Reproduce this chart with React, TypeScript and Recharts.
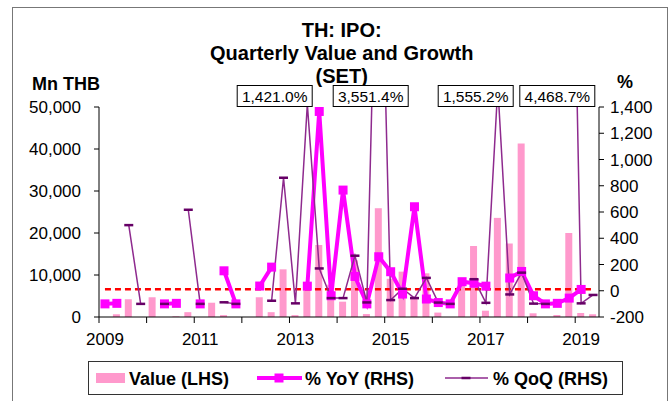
import { Bar, ComposedChart, Line, ReferenceLine, XAxis, YAxis } from "recharts"

// 2009Q1 .. 2019Q2
const periods = [
    "2009Q1", "2009Q2", "2009Q3", "2009Q4",
    "2010Q1", "2010Q2", "2010Q3", "2010Q4",
    "2011Q1", "2011Q2", "2011Q3", "2011Q4",
    "2012Q1", "2012Q2", "2012Q3", "2012Q4",
    "2013Q1", "2013Q2", "2013Q3", "2013Q4",
    "2014Q1", "2014Q2", "2014Q3", "2014Q4",
    "2015Q1", "2015Q2", "2015Q3", "2015Q4",
    "2016Q1", "2016Q2", "2016Q3", "2016Q4",
    "2017Q1", "2017Q2", "2017Q3", "2017Q4",
    "2018Q1", "2018Q2", "2018Q3", "2018Q4",
    "2019Q1", "2019Q2",
]

// IPO value, Mn THB (LHS)
const values = [
    0, 650, 4250, 0,
    4700, 0, 170, 1150,
    0, 3400, 450, 0,
    0, 4700, 1150, 11350,
    450, 6800, 17150, 7700,
    3650, 13500, 700, 25900,
    9100, 10800, 4850, 10400,
    1050, 0, 8600, 16900,
    1500, 23600, 17500, 41300,
    880, 0, 480, 20000,
    950, 650,
]

// % YoY (RHS)
const yoy = [
    -100, -96, null, null,
    null, -100, -96, null,
    -100, null, 152, -100,
    null, 36, 180, null,
    null, 35, 1366, -38,
    767, 109, -100, 259,
    145, -25, 640, -63,
    -90, -100, 69, 57,
    35, null, 97, 147,
    -38, -100, -96, -56,
    10, null,
]

// % QoQ (RHS)
const qoq = [
    null, null, 500, -100,
    null, -100, null, 617,
    -100, null, -88, -100,
    null, null, -76, 861,
    -96, 1421.0, 170, -56,
    -56, 267, -89, 3551.4,
    -71, 15, -56, 98,
    -90, -100, null, 88,
    -92, 1555.2, -28, 138,
    -98, -100, null, 4468.7,
    -96, -32,
]

const leftTicks = [0, 10000, 20000, 30000, 40000, 50000]
const rightTicks = [-200, 0, 200, 400, 600, 800, 1000, 1200, 1400]

// QoQ spikes that run off the top of the chart get a call-out box
const spikePeriods = ["2013Q2", "2014Q4", "2017Q2", "2018Q4"]
const spikeBoxLeft = [236.7, 332.7, 437.7, 519.3]

const data = periods.map((period, i) => ({
    period,
    value: values[i],
    yoy: yoy[i],
    qoq: qoq[i],
}))

const avgValue = values.reduce((s, v) => s + v, 0) / values.length

const W = 672
const H = 401
const M = { top: 107, right: 13, bottom: 54, left: 39 }
const AXIS_W = 60
const PLOT_W = W - M.left - M.right - 2 * AXIS_W
const halfBand = PLOT_W / periods.length / 2

const FONT = "'Liberation Sans', Arial, sans-serif"
const PINK = "#FF99CC"
const MAGENTA = "#FF00FF"
const PURPLE = "#8E2A8E"
const PURPLE_DARK = "#660066"

const fmt = (v: number) => v.toLocaleString("en-US")
const fmtPct = (v: number) =>
    v.toLocaleString("en-US", { minimumFractionDigits: 1, maximumFractionDigits: 1 }) + "%"

// tick marks between years, year labels every second year
const QuarterTick = (props: any) => {
    const { x, y, payload } = props
    const [year, q] = String(payload.value).split("Q")
    if (q !== "1") return <g />
    return (
        <g>
            <line x1={x - halfBand} x2={x - halfBand} y1={y - 6} y2={y} stroke="#000" />
            {Number(year) % 2 === 1 && (
                <text x={x} y={y} dy={22.3} textAnchor="middle" fontSize={17} fontFamily={FONT} fill="#000">
                    {year}
                </text>
            )}
        </g>
    )
}

const SquareDot = (props: any) => {
    const { cx, cy, index } = props
    if (cx == null || cy == null || props.value == null) return <g key={`y${index}`} />
    return <rect key={`y${index}`} x={cx - 4.5} y={cy - 4.5} width={9} height={9} fill={MAGENTA} />
}

const DashDot = (props: any) => {
    const { cx, cy, index } = props
    if (cx == null || cy == null || props.value == null) return <g key={`q${index}`} />
    return <line key={`q${index}`} x1={cx - 4.5} x2={cx + 4.5} y1={cy} y2={cy} stroke={PURPLE_DARK} strokeWidth={2.5} />
}

export default function App() {
    return (
        <div style={{ position: "absolute", left: 0, top: 0, width: W, height: H, background: "#fff", fontFamily: FONT }}>
            <ComposedChart width={W} height={H} data={data} margin={M}>
                <XAxis
                    dataKey="period"
                    interval={0}
                    tick={<QuarterTick />}
                    tickLine={false}
                    tickSize={6}
                    tickMargin={0}
                    height={30}
                    axisLine={{ stroke: "#000" }}
                />
                <YAxis
                    yAxisId="left"
                    width={AXIS_W}
                    domain={[0, 50000]}
                    ticks={leftTicks}
                    tickFormatter={fmt}
                    tickSize={5}
                    tickMargin={13}
                    axisLine={{ stroke: "#000" }}
                    tickLine={{ stroke: "#000" }}
                    tick={{ fill: "#000", fontSize: 17, fontFamily: FONT }}
                />
                <YAxis
                    yAxisId="right"
                    orientation="right"
                    width={AXIS_W}
                    domain={[-200, 1400]}
                    allowDataOverflow
                    ticks={rightTicks}
                    tickFormatter={fmt}
                    tickSize={5}
                    tickMargin={6}
                    axisLine={{ stroke: "#000" }}
                    tickLine={{ stroke: "#000" }}
                    tick={{ fill: "#000", fontSize: 17, fontFamily: FONT }}
                />
                <Bar yAxisId="left" dataKey="value" fill={PINK} barSize={7} isAnimationActive={false} />
                <ReferenceLine
                    yAxisId="left"
                    segment={[
                        { x: periods[0], y: avgValue },
                        { x: periods[periods.length - 1], y: avgValue },
                    ]}
                    stroke="#FF0000"
                    strokeWidth={2.5}
                    strokeDasharray="6 4"
                />
                <Line
                    yAxisId="right"
                    dataKey="yoy"
                    type="linear"
                    stroke={MAGENTA}
                    strokeWidth={4}
                    dot={SquareDot}
                    activeDot={false}
                    isAnimationActive={false}
                />
                <Line
                    yAxisId="right"
                    dataKey="qoq"
                    type="linear"
                    stroke={PURPLE}
                    strokeWidth={1.5}
                    dot={DashDot}
                    activeDot={false}
                    isAnimationActive={false}
                />
            </ComposedChart>

            <svg width={W} height={H} style={{ position: "absolute", left: 0, top: 0, pointerEvents: "none" }}>
                <rect x={12.5} y={7.5} width={655} height={400} fill="none" stroke="#777" />

                <g fontFamily={FONT} fontWeight="bold" fontSize={20} textAnchor="middle" fill="#000">
                    <text x={341.7} y={36.7}>TH: IPO:</text>
                    <text x={341.7} y={59.7}>Quarterly Value and Growth</text>
                    <text x={341.7} y={82.7}>(SET)</text>
                </g>

                <text x={100} y={90} textAnchor="end" fontFamily={FONT} fontWeight="bold" fontSize={18}>Mn THB</text>
                <text x={617} y={88} fontFamily={FONT} fontWeight="bold" fontSize={18}>%</text>

                {spikePeriods.map((p, i) => {
                    const v = qoq[periods.indexOf(p)] as number
                    const bx = spikeBoxLeft[i]
                    return (
                        <g key={p}>
                            <rect x={bx + 0.5} y={85.5} width={75} height={21} fill="#fff" stroke="#000" />
                            <text x={bx + 38} y={101.7} textAnchor="middle" fontFamily={FONT} fontSize={15.5}>
                                {fmtPct(v)}
                            </text>
                        </g>
                    )
                })}

                <rect x={88.5} y={361.5} width={534} height={33} fill="#fff" stroke="#333" />
                <rect x={96} y={373} width={29} height={10} fill={PINK} />
                <line x1={257} x2={302} y1={378} y2={378} stroke={MAGENTA} strokeWidth={4} />
                <rect x={274.5} y={373.5} width={9} height={9} fill={MAGENTA} />
                <line x1={445} x2={488} y1={378} y2={378} stroke={PURPLE} strokeWidth={1.5} />
                <line x1={461.5} x2={470.5} y1={378} y2={378} stroke={PURPLE_DARK} strokeWidth={2.5} />
                <g fontFamily={FONT} fontWeight="bold" fontSize={18} fill="#000">
                    <text x={129} y={385}>Value (LHS)</text>
                    <text x={305} y={385}>% YoY (RHS)</text>
                    <text x={493} y={385}>% QoQ (RHS)</text>
                </g>
            </svg>
        </div>
    )
}
